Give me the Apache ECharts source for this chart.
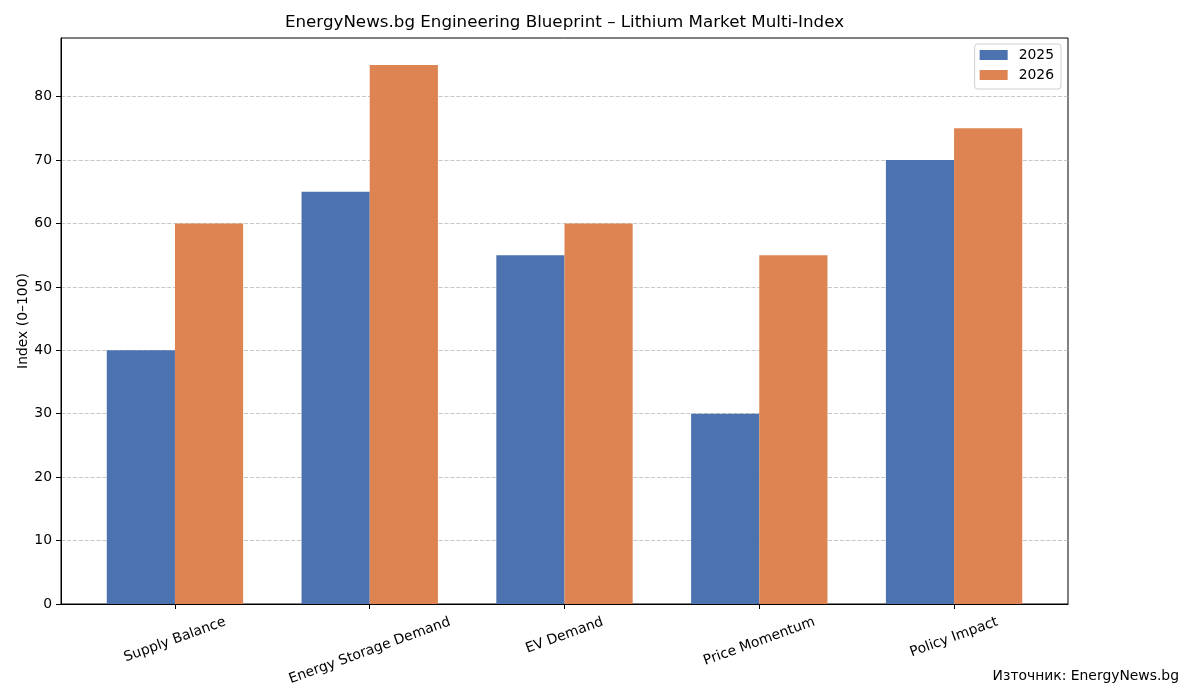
<!DOCTYPE html>
<html><head><meta charset="utf-8">
<script src="https://cdn.jsdelivr.net/npm/echarts@6/dist/echarts.min.js"></script>
<style>html,body{margin:0;padding:0;background:#fff}#c{width:1200px;height:700px}</style>
</head><body><div id="c"></div>
<script>
const categories = ['Supply Balance', 'Energy Storage Demand', 'EV Demand', 'Price Momentum', 'Policy Impact'];
const values2025 = [40, 65, 55, 30, 70];
const values2026 = [60, 85, 60, 55, 75];
const seriesNames = ['2025', '2026'];
const yTicks = [0, 10, 20, 30, 40, 50, 60, 70, 80];

const FONT = '"DejaVu Sans", sans-serif';
const FS = 13.9;
const grid = { left: 61, right: 132, top: 38, bottom: 96 };
const xMin = -0.585, xMax = 4.585;
const plotW = 1200 - grid.left - grid.right;
const barW = 0.35 * plotW / (xMax - xMin);
const catIdx = categories.map((_, i) => i);

const ctx = document.createElement('canvas').getContext('2d');
ctx.font = FS + 'px ' + FONT;
const ang = 20 * Math.PI / 180, sn = Math.sin(ang), cs = Math.cos(ang);
const LH = 16;
const rich = {};
categories.forEach((c, i) => {
  const w = ctx.measureText(c).width;
  const E = (w * sn + LH * cs) / 2;
  rich['c' + i] = { fontSize: FS, fontFamily: FONT, color: '#000', lineHeight: LH, padding: [2 * cs * E, 2 * sn * E, 0, 0] };
});

const chart = echarts.init(document.getElementById('c'), null, { renderer: 'canvas' });
chart.setOption({
  animation: false,
  backgroundColor: '#fff',
  textStyle: { fontFamily: FONT },
  title: [
    { text: 'EnergyNews.bg Engineering Blueprint – Lithium Market Multi-Index',
      left: grid.left + plotW / 2, textAlign: 'center', top: 13, padding: 0,
      textStyle: { fontSize: 16.7, fontWeight: 'normal', color: '#000', fontFamily: FONT, lineHeight: 20 } },
    { text: 'Източник: EnergyNews.bg', right: 21, top: 668, padding: 0,
      textStyle: { fontSize: FS, fontWeight: 'normal', color: '#000', fontFamily: FONT, lineHeight: 16 } }
  ],
  legend: {
    data: seriesNames, orient: 'vertical', right: 139, top: 44,
    itemWidth: 28, itemHeight: 10, itemGap: 6, icon: 'rect',
    padding: [4, 7, 7, 5], borderColor: '#d0d0d0', borderWidth: 1, borderRadius: 3,
    backgroundColor: 'rgba(255,255,255,0.8)',
    textStyle: { fontSize: FS, color: '#000', fontFamily: FONT, lineHeight: 14, padding: [0, 0, 0, 6] }
  },
  grid: { left: grid.left, right: grid.right, top: grid.top, bottom: grid.bottom, show: true, borderColor: '#000', borderWidth: 1, containLabel: false },
  xAxis: {
    type: 'value', min: xMin, max: xMax,
    axisLine: { show: true, onZero: false, lineStyle: { color: '#000', width: 1 } },
    axisTick: { show: true, customValues: catIdx, length: 5, lineStyle: { color: '#000' } },
    splitLine: { show: false },
    axisLabel: {
      customValues: catIdx, rotate: 20, align: 'center', verticalAlign: 'middle', margin: 10,
      formatter: v => { const i = Math.round(v); return '{c' + i + '|' + categories[i] + '}'; },
      rich: rich
    }
  },
  yAxis: {
    type: 'value', min: 0, max: 89.25, interval: 10,
    name: 'Index (0–100)', nameLocation: 'middle', nameGap: 31, nameMoveOverlap: false,
    nameTextStyle: { fontSize: FS, color: '#000', fontFamily: FONT },
    axisLine: { show: true, onZero: false, lineStyle: { color: '#000', width: 1 } },
    axisTick: { show: true, customValues: yTicks, length: 5, lineStyle: { color: '#000' } },
    axisLabel: { customValues: yTicks, fontSize: FS, color: '#000', margin: 9, fontFamily: FONT },
    splitLine: { show: true, lineStyle: { color: '#b0b0b0', opacity: 0.7, type: [4.1, 1.8], width: 1.1 } }
  },
  series: [
    { name: seriesNames[0], type: 'bar', barWidth: barW, barGap: '0%',
      itemStyle: { color: '#4C72B0' }, data: values2025.map((v, i) => [i, v]) },
    { name: seriesNames[1], type: 'bar', barWidth: barW, barGap: '0%',
      itemStyle: { color: '#DD8452' }, data: values2026.map((v, i) => [i, v]) }
  ]
});
</script></body></html>
